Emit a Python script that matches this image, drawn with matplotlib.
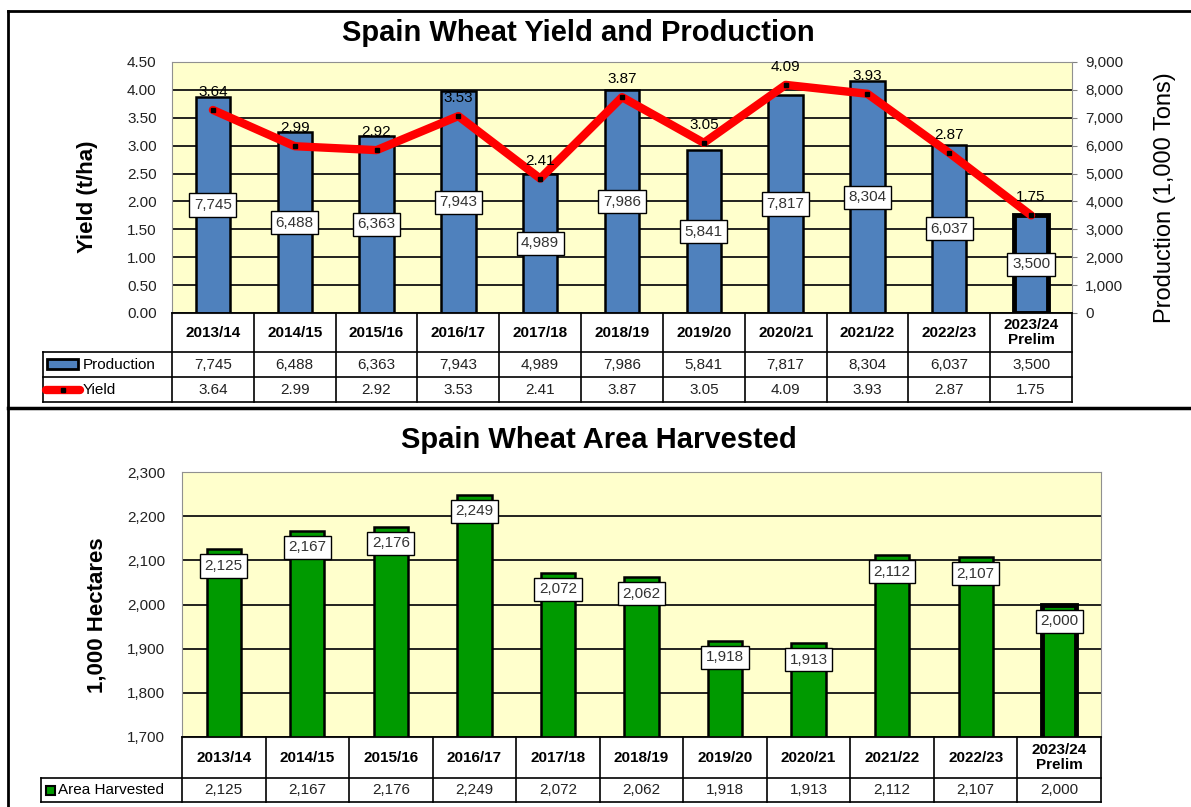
import numpy as np
import matplotlib.pyplot as plt
from matplotlib.patches import Rectangle

plt.rcParams['font.family'] = ['Liberation Sans', 'DejaVu Sans']

categories = ['2013/14', '2014/15', '2015/16', '2016/17', '2017/18', '2018/19',
              '2019/20', '2020/21', '2021/22', '2022/23', '2023/24\nPrelim']
production = [7745, 6488, 6363, 7943, 4989, 7986, 5841, 7817, 8304, 6037, 3500]
yields = [3.64, 2.99, 2.92, 3.53, 2.41, 3.87, 3.05, 4.09, 3.93, 2.87, 1.75]
area = [2125, 2167, 2176, 2249, 2072, 2062, 1918, 1913, 2112, 2107, 2000]

W, H = 1191, 807
BG = '#FFFFCC'
BLUE = '#4F81BD'
GREEN = '#009A00'
RED = '#FF0000'
TXT = '#222222'

fig = plt.figure(figsize=(W / 100, H / 100), dpi=100)


def px_axes(x0, y0, x1, y1):
    # axes placed by pixel box (y from the top)
    return fig.add_axes([x0 / W, 1 - y1 / H, (x1 - x0) / W, (y1 - y0) / H])


x = np.arange(len(categories))
edge_w = [1.8] * (len(categories) - 1) + [3.5]

# panel frames
bg = px_axes(0, 0, W, H)
bg.set_xlim(0, W)
bg.set_ylim(H, 0)
bg.axis('off')
bg.plot([8, W], [11, 11], color='k', lw=2)
bg.plot([8, 8], [11, H], color='k', lw=2)
bg.plot([8, W], [408, 408], color='k', lw=2.5)

# ---------------- top: yield and production ----------------
fig.text(578 / W, 1 - 33 / H, 'Spain Wheat Yield and Production',
         ha='center', va='center', fontsize=21, fontweight='bold')

ax = px_axes(172, 62, 1072, 313)
ax2 = ax.twinx()
ax.set_facecolor(BG)
bars = ax.bar(x, production, width=0.42, color=BLUE, edgecolor='k',
              linewidth=edge_w, zorder=2)
ax.set_xlim(-0.5, 10.5)
ax.set_ylim(0, 9000)
ax.set_yticks(np.arange(0, 9001, 1000))
ax.yaxis.tick_right()
ax.yaxis.set_major_formatter(lambda v, p: f'{v:,.0f}')
ax.tick_params(axis='y', length=3.5, pad=6, labelsize=11, colors='#808080',
               labelcolor=TXT)
ax.set_xticks([])
ax.grid(axis='y', color='#111111', lw=1.3)
ax.set_axisbelow(True)
for s in ax.spines.values():
    s.set_color('#909090')
for b, v in zip(bars, production):
    ax.annotate(f'{v:,}', (b.get_x() + b.get_width() / 2, v / 2),
                ha='center', va='center', fontsize=11, color='#333333', zorder=3,
                bbox=dict(boxstyle='square,pad=0.3', fc='white', ec='k', lw=1))

ax2.yaxis.tick_left()
ax2.set_ylim(0, 4.5)
ax2.set_yticks(np.arange(0, 4.51, 0.5))
ax2.yaxis.set_major_formatter(lambda v, p: f'{v:.2f}')
ax2.tick_params(axis='y', length=0, pad=11, labelsize=11, labelcolor=TXT)
for s in ax2.spines.values():
    s.set_visible(False)
ax2.plot(x, yields, color=RED, lw=6, solid_joinstyle='round',
         solid_capstyle='round', marker='s', ms=3.5, mfc='k', mec='k')
for i, v in enumerate(yields):
    ax2.annotate(f'{v:.2f}', (i, v), xytext=(0, 13), textcoords='offset points',
                 ha='center', va='center', fontsize=11, color='k')

fig.text(88 / W, 1 - 197 / H, 'Yield (t/ha)', rotation=90, ha='center',
         va='center', fontsize=16, fontweight='bold')
fig.text(1165 / W, 1 - 198 / H, 'Production (1,000 Tons)', rotation=90,
         ha='center', va='center', fontsize=17)

# data table under the top chart
tab = px_axes(43, 313, 1072, 402)
cw = 900 / 11
lu = 129 / cw
xl = -0.5 - lu
tab.set_xlim(xl, 10.5)
tab.set_ylim(89, 0)
tab.axis('off')
kw = dict(color='k', lw=1.2, clip_on=False)
for k in range(12):
    tab.plot([k - 0.5, k - 0.5], [0, 89], **kw)
tab.plot([xl, xl], [39, 89], **kw)
tab.plot([-0.5, 10.5], [0, 0], **kw)
for yy in (39, 64, 89):
    tab.plot([xl, 10.5], [yy, yy], **kw)
for i, c in enumerate(categories):
    tab.text(i, 19.5, c, ha='center', va='center', fontsize=11,
             fontweight='bold', linespacing=1.1)
    tab.text(i, 51.5, f'{production[i]:,}', ha='center', va='center',
             fontsize=11, color=TXT)
    tab.text(i, 76.5, f'{yields[i]:.2f}', ha='center', va='center',
             fontsize=11, color=TXT)
tab.add_patch(Rectangle((xl + 4 / cw, 46), 31 / cw, 10, fc=BLUE, ec='k',
                        lw=2, clip_on=False))
tab.text(xl + 40 / cw, 51.5, 'Production', ha='left', va='center', fontsize=11)
tab.plot([xl + 3 / cw, xl + 37 / cw], [76.5, 76.5], color=RED, lw=6,
         solid_capstyle='round', clip_on=False)
tab.plot([xl + 20 / cw], [76.5], marker='s', ms=3.5, color='k', clip_on=False)
tab.text(xl + 40 / cw, 76.5, 'Yield', ha='left', va='center', fontsize=11)

# ---------------- bottom: area harvested ----------------
fig.text(599 / W, 1 - 440 / H, 'Spain Wheat Area Harvested',
         ha='center', va='center', fontsize=21, fontweight='bold')

axb = px_axes(182, 472, 1101, 737)
axb.set_facecolor(BG)
gbars = axb.bar(x, area, width=0.41, color=GREEN, edgecolor='k',
                linewidth=edge_w, zorder=2)
axb.set_xlim(-0.5, 10.5)
axb.set_ylim(1700, 2300)
axb.set_yticks(np.arange(1700, 2301, 100))
axb.yaxis.set_major_formatter(lambda v, p: f'{v:,.0f}')
axb.tick_params(axis='y', length=0, pad=12, labelsize=11, labelcolor=TXT)
axb.set_xticks([])
axb.grid(axis='y', color='#111111', lw=1.3)
axb.set_axisbelow(True)
for s in axb.spines.values():
    s.set_color('#909090')
for b, v in zip(gbars, area):
    axb.annotate(f'{v:,}', (b.get_x() + b.get_width() / 2, v), xytext=(0, -12),
                 textcoords='offset points', ha='center', va='center',
                 fontsize=11, color='#333333', zorder=3,
                 bbox=dict(boxstyle='square,pad=0.3', fc='white', ec='k', lw=1))

fig.text(97 / W, 1 - 615 / H, '1,000 Hectares', rotation=90, ha='center',
         va='center', fontsize=16, fontweight='bold')

tb = px_axes(41, 737, 1101, 802)
cwb = 919 / 11
lub = 141 / cwb
xb = -0.5 - lub
tb.set_xlim(xb, 10.5)
tb.set_ylim(65, 0)
tb.axis('off')
for k in range(12):
    tb.plot([k - 0.5, k - 0.5], [0, 65], **kw)
tb.plot([xb, xb], [41, 65], **kw)
tb.plot([-0.5, 10.5], [0, 0], **kw)
for yy in (41, 65):
    tb.plot([xb, 10.5], [yy, yy], **kw)
for i, c in enumerate(categories):
    tb.text(i, 20.5, c, ha='center', va='center', fontsize=11,
            fontweight='bold', linespacing=1.1)
    tb.text(i, 53, f'{area[i]:,}', ha='center', va='center', fontsize=11,
            color=TXT)
tb.add_patch(Rectangle((xb + 5 / cwb, 48.5), 9 / cwb, 9, fc=GREEN, ec='k',
                       lw=1.5, clip_on=False))
tb.text(xb + 17 / cwb, 53, 'Area Harvested', ha='left', va='center', fontsize=11)

fig.savefig('out.png', dpi=100)
